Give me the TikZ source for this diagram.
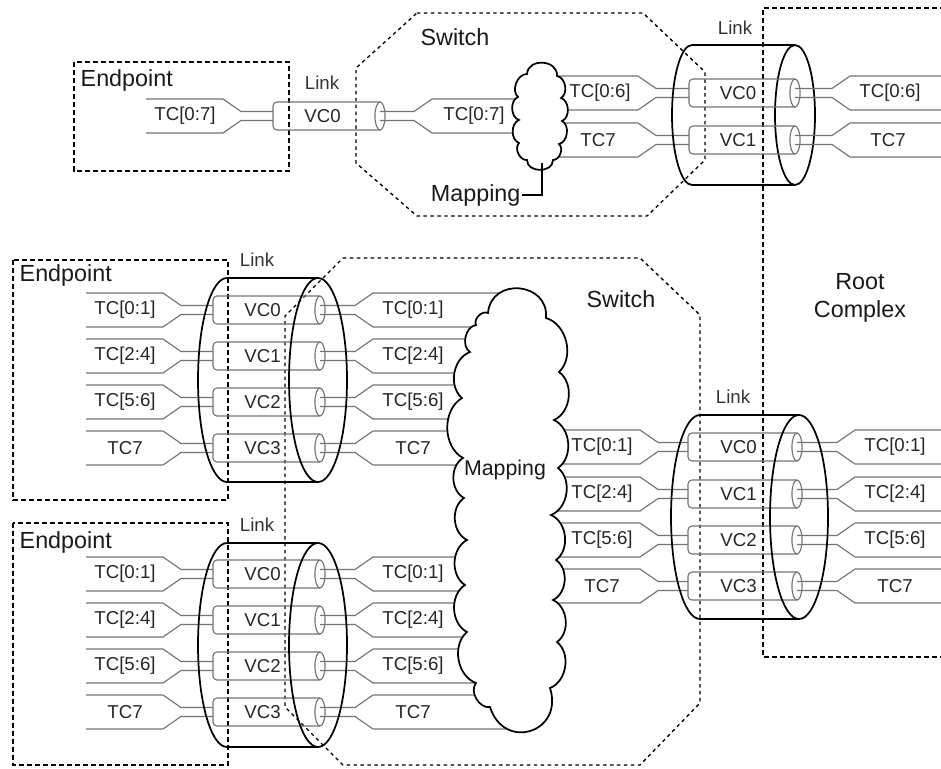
\documentclass[tikz,border=0pt]{standalone}
\usepackage{fontspec}
\setmainfont{Liberation Sans}
\newcommand\fanL[5]{%
 \draw[chan] (#1,#5-17) -- (#2,#5-17) -- (#3,#5-4.5) -- (#4,#5-4.5);
 \draw[chan] (#1,#5+17) -- (#2,#5+17) -- (#3,#5+4.5) -- (#4,#5+4.5);}
\newcommand\fanR[5]{%
 \draw[chan] (#1,#5-4.5) -- (#2,#5-4.5) -- (#3,#5-17) -- (#4,#5-17);
 \draw[chan] (#1,#5+4.5) -- (#2,#5+4.5) -- (#3,#5+17) -- (#4,#5+17);}
\newcommand\vcpipe[5]{%
 \draw[pipe, rounded corners=3pt] (#2,#3-14) -- (#1,#3-14) -- (#1,#3+14) -- (#2,#3+14);
 \draw[pipe] (#2,#3) ellipse[x radius=3.8pt, y radius=10.5pt];
 \node[tc] (#5) at ({(#1+#2)/2-4},#3) {#4};}
\newcommand\bigcyl[5]{%
 \draw[cyl] (#2,#3-#4) -- (#1,#3-#4) arc[start angle=90,end angle=270,x radius=#5,y radius=#4*0.75pt] -- (#2,#3+#4);
 \draw[cyl] (#2,#3) ellipse[x radius=#5, y radius=#4*0.75pt];}
\begin{document}
\begin{tikzpicture}[x=0.75pt,y=-0.75pt,
 chan/.style={draw=black!55, line width=0.85pt},
 pipe/.style={draw=black!55, line width=0.85pt},
 cyl/.style={draw=black, line width=1.3pt},
 ebox/.style={draw=black, line width=1.8pt, dash pattern=on 4pt off 2pt},
 sw/.style={draw=black, line width=1pt, dash pattern=on 2.6pt off 2.6pt},
 tc/.style={font=\fontsize{14}{16}\selectfont, text=black!85, inner sep=1pt},
 big/.style={font=\fontsize{17.5}{21}\selectfont, text=black!90},
 lnk/.style={font=\fontsize{14}{16}\selectfont, text=black!80},
 cloudline/.style={draw=black, line width=1.3pt, fill=white},
]
\useasboundingbox (0,0) rectangle (941,768);

% ---------- boxes and switch outlines ----------
\draw[ebox] (74,62) rectangle (289,171);
\node[big, anchor=west] (ep0) at (76,80) {Endpoint};
\draw[ebox] (13,260) rectangle (228,500);
\node[big, anchor=west] (ep1) at (15,275) {Endpoint};
\draw[ebox] (13,523) rectangle (228,765);
\node[big, anchor=west] (ep2) at (15,542) {Endpoint};
\draw[ebox] (945,8) -- (763,8) -- (763,657) -- (945,657);
\node[big, align=center] (rc) at (860,298) {Root\\Complex};

\draw[sw] (417,13) -- (643,13) -- (705,72) -- (705,160) -- (647,216) -- (417,216) -- (356,163) -- (356,68) -- cycle;
\node[big] (sw0) at (455,37) {Switch};
\draw[sw] (343,258) -- (640,258) -- (700,315) -- (700,703) -- (640,765) -- (343,765) -- (285,707) -- (285,316) -- cycle;
\node[big] (sw1) at (621,299) {Switch};

% ---------- top row ----------
\fanL{146}{223}{241}{273}{116}
\node[tc] (t0a) at (185,116) {TC[0:7]};
\vcpipe{273}{380}{116}{VC0}{v00}
\node[lnk] (lk0) at (322,83) {Link};
\fanR{380}{414}{432}{535}{116}
\node[tc] (t0b) at (474,116) {TC[0:7]};
\fanL{540}{638}{656}{689}{93}
\fanL{540}{638}{656}{689}{140}
\node[tc] (t0c) at (600,93) {TC[0:6]};
\node[tc] (t0d) at (598,140) {TC7};
\bigcyl{692}{795}{115}{70}{15pt}
\vcpipe{689}{795}{93}{VC0}{v01}
\vcpipe{689}{795}{140}{VC1}{v02}
\node[lnk] (lk1) at (735,28) {Link};
\fanR{795}{832}{850}{941}{93}
\fanR{795}{832}{850}{941}{140}
\node[tc] (t0e) at (890,93) {TC[0:6]};
\node[tc] (t0f) at (888,140) {TC7};
% small mapping cloud
\path[cloudline] (527,74)
 to[bend left=90, looseness=1.4] (557,76)
 to[bend left=70] (561,98)
 to[bend left=70] (562,121)
 to[bend left=70] (559,144)
 to[bend left=70] (553,160)
 to[bend left=90, looseness=1.3] (527,160)
 to[bend left=70] (519,143)
 to[bend left=70] (519,120)
 to[bend left=70] (518,97)
 to[bend left=70] (527,74) -- cycle;
\coordinate (mapTopBot) at (542,163);
\node[big, anchor=east, inner sep=1pt] (mapLbl) at (522,195) {Mapping};
\draw[line width=2pt] (mapTopBot) |- (mapLbl.east);

% ---------- endpoint 1 and 2 ----------
\foreach \y/\t/\v/\i in {310/{TC[0:1]}/VC0/a, 356/{TC[2:4]}/VC1/b, 402/{TC[5:6]}/VC2/c, 448/TC7/VC3/d,
                         574/{TC[0:1]}/VC0/e, 620/{TC[2:4]}/VC1/f, 666/{TC[5:6]}/VC2/g, 712/TC7/VC3/h}{
  \fanL{86}{163}{181}{213}{\y}
  \node[tc] (tl\i) at (125,\y) {\t};
  \vcpipe{213}{320}{\y}{\v}{vp\i}
  \fanR{320}{355}{373}{515}{\y}
  \node[tc] (tr\i) at (413,\y) {\t};
}
\bigcyl{227}{318}{380}{102}{21.75pt}
\bigcyl{227}{318}{645}{102}{21.75pt}
\node[lnk] (lk2) at (257,260) {Link};
\node[lnk] (lk3) at (257,525) {Link};

% ---------- bottom right link ----------
\foreach \y/\t/\v/\i in {447/{TC[0:1]}/VC0/a, 494/{TC[2:4]}/VC1/b, 540/{TC[5:6]}/VC2/c, 586/TC7/VC3/d}{
  \fanL{509}{640}{658}{688}{\y}
  \node[tc] (ml\i) at (602,\y) {\t};
  \vcpipe{688}{797}{\y}{\v}{vq\i}
  \fanR{797}{837}{855}{941}{\y}
  \node[tc] (mr\i) at (895,\y) {\t};
}
\bigcyl{700}{799}{517}{102}{21.75pt}
\node[lnk] (lk4) at (733,397) {Link};

% big mapping cloud
\path[cloudline] (488,313)
 to[bend left=90, looseness=1.6] (546,318)
 to[bend left=60] (559,372)
 to[bend left=60] (554,420)
 to[bend left=60] (558,468)
 to[bend left=60] (551,515)
 to[bend left=60] (556,560)
 to[bend left=60] (553,600)
 to[bend left=60] (557,642)
 to[bend left=60] (550,688)
 to[bend left=90, looseness=1.9] (490,707)
 to[bend left=70] (476,683)
 to[bend left=60] (467,632)
 to[bend left=60] (465,585)
 to[bend left=60] (467,540)
 to[bend left=60] (464,498)
 to[bend left=60] (463,458)
 to[bend left=60] (462,398)
 to[bend left=60] (470,352)
 to[bend left=70] (476,325)
 to[bend left=70] (488,313) -- cycle;
\node[font=\fontsize{16}{19}\selectfont, text=black!90] (mapTxt) at (505,470) {Mapping};
\end{tikzpicture}
\end{document}
